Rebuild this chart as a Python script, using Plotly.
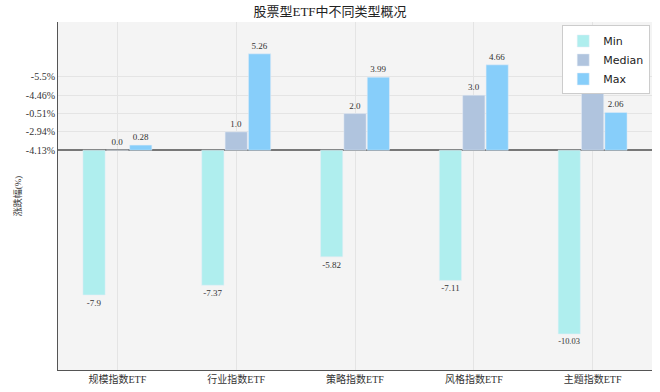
import plotly.graph_objects as go

categories = ["规模指数ETF", "行业指数ETF", "策略指数ETF", "风格指数ETF", "主题指数ETF"]
min_vals = [-7.9, -7.37, -5.82, -7.11, -10.03]
median_vals = [0.0, 1.0, 2.0, 3.0, 4.0]
max_vals = [0.28, 5.26, 3.99, 4.66, 2.06]
tick_vals = [0, 1, 2, 3, 4]
tick_text = ["-4.13%", "-2.94%", "-0.51%", "-4.46%", "-5.5%"]

serif = "Liberation Serif, Noto Sans CJK SC, serif"
fig = go.Figure()
for name, vals, color in [("Min", min_vals, "#afeeee"),
                          ("Median", median_vals, "#b0c4de"),
                          ("Max", max_vals, "#87cefa")]:
    fig.add_trace(go.Bar(
        x=categories, y=vals, name=name, marker_color=color,
        text=[str(v) for v in vals], textposition="outside",
        textfont=dict(family=serif, size=9, color="#333333"),
        cliponaxis=False,
    ))

fig.update_layout(
    width=660, height=392,
    margin=dict(l=58, r=8, t=22, b=22, autoexpand=False),
    paper_bgcolor="white", plot_bgcolor="#f4f4f4",
    title=dict(text="股票型ETF中不同类型概况", x=0.5, xanchor="center", y=0.97, yanchor="middle",
               font=dict(family=serif, size=13, color="#222222"), automargin=False),
    barmode="group", bargap=0.41, bargroupgap=0.05,
    legend=dict(x=0.997, y=0.99, xanchor="right", yanchor="top",
                bgcolor="white", bordercolor="#cccccc", borderwidth=1,
                tracegroupgap=0,
                font=dict(family="DejaVu Sans, sans-serif", size=11, color="#222222")),
    font=dict(family=serif, size=10, color="#333333"),
    xaxis=dict(showgrid=True, gridcolor="#e4e4e4", showline=True, linecolor="#555555",
               linewidth=1, ticks="", automargin=False,
               tickfont=dict(family=serif, size=10, color="#333333")),
    yaxis=dict(range=[-12, 7], tickvals=tick_vals, ticktext=tick_text, automargin=False,
               showgrid=True, gridcolor="#e4e4e4", showline=True, linecolor="#555555",
               zeroline=True, zerolinecolor="#777777", zerolinewidth=1.5,
               title=dict(text="涨跌幅(%)", font=dict(family=serif, size=9, color="#333333"), standoff=2),
               tickfont=dict(family=serif, size=10, color="#333333")),
)
fig.write_html("out.html", config={"displayModeBar": False},
               post_script="document.body.style.margin='0';")
